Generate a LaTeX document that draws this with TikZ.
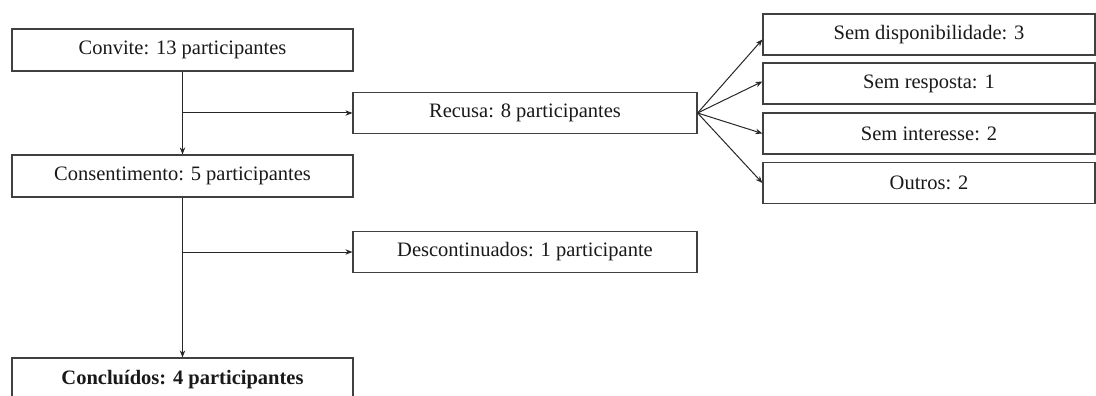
\documentclass[tikz,border=0pt]{standalone}
\usepackage{fontspec}
\setmainfont{Liberation Serif}
\usetikzlibrary{arrows.meta,calc}
\begin{document}
\begin{tikzpicture}[x=1pt,y=-1pt,
  box/.style={draw=black!75,line width=1.2pt,minimum height=#1,inner sep=0pt,font=\fontsize{20.5}{22}\selectfont,text=black!90},
  box/.default=42pt,
  conn/.style={draw=black!85,line width=1pt,-{Stealth[length=7pt,width=5.5pt]}},
  plain/.style={draw=black!80,line width=1pt}]
\useasboundingbox (0,0) rectangle (1096,396);
% left column
\node[box, minimum width=341pt] (conv) at (182.5,50) {Convite: 13 participantes};
\node[box, minimum width=341pt] (cons) at (182.5,176) {Consentimento: 5 participantes};
\node[box=44pt, minimum width=341pt, font=\fontsize{20.5}{22}\selectfont\bfseries] (concl) at (182.5,380) {\raisebox{3pt}{Concluídos: 4 participantes}};
% middle column
\node[box=41pt, minimum width=344pt] (rec) at (525,113) {Recusa: 8 participantes};
\node[box=41pt, minimum width=344pt] (desc) at (525,252) {Descontinuados: 1 participante};
% right column
\node[box=41pt, minimum width=332pt] (s1) at (929,34.5) {Sem disponibilidade: 3};
\node[box=41pt, minimum width=332pt] (s2) at (929,83.5) {Sem resposta: 1};
\node[box=41pt, minimum width=332pt] (s3) at (929,133.5) {Sem interesse: 2};
\node[box=41pt, minimum width=332pt] (s4) at (929,183) {Outros: 2};
% connectors
\draw[conn] (conv.south) -- (cons.north);
\coordinate (b1) at (conv.south |- rec.west);
\draw[conn] (b1) -- (rec.west);
\draw[conn] (cons.south) -- (concl.north);
\coordinate (b2) at (cons.south |- desc.west);
\draw[conn] (b2) -- (desc.west);
\draw[conn] (rec.east) -- ([yshift=-5pt]s1.west);
\draw[conn] (rec.east) -- ([yshift=2pt]s2.west);
\draw[conn] (rec.east) -- (s3.west);
\draw[conn] (rec.east) -- (s4.west);
\end{tikzpicture}
\end{document}
